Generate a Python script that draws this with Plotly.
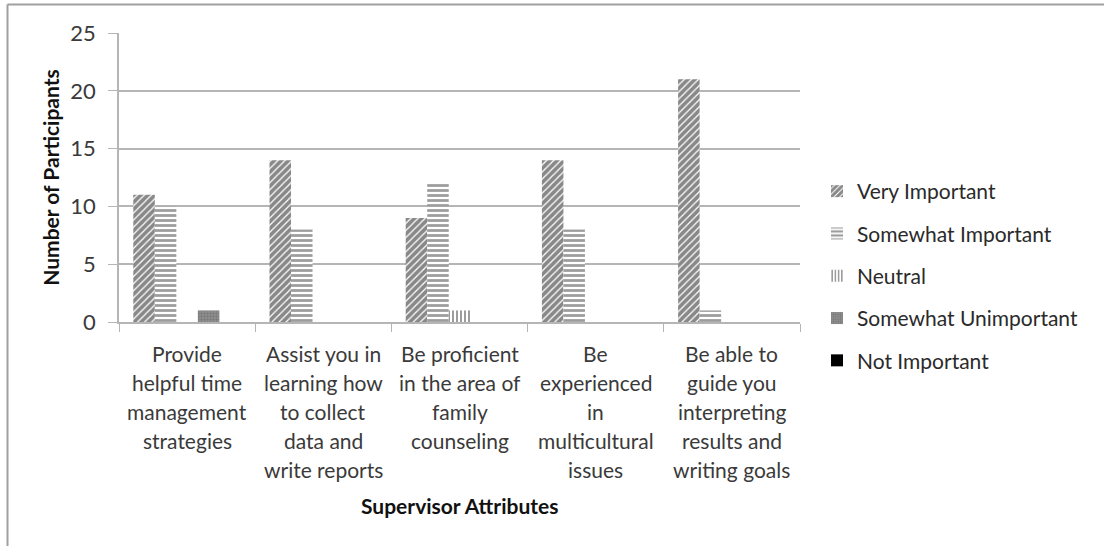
import plotly.graph_objects as go

# Survey data: supervisor attributes rated by participants
category_lines = [
    ["Provide", "helpful time", "management", "strategies"],
    ["Assist you in", "learning how", "to collect", "data and", "write reports"],
    ["Be proficient", "in the area of", "family", "counseling"],
    ["Be", "experienced", "in", "multicultural", "issues"],
    ["Be able to", "guide you", "interpreting", "results and", "writing goals"],
]
categories = [" ".join(lines) for lines in category_lines]

series_names = ["Very Important", "Somewhat Important", "Neutral",
                "Somewhat Unimportant", "Not Important"]
very_important = [11, 14, 9, 14, 21]
somewhat_important = [10, 8, 12, 8, 1]
neutral = [0, 0, 1, 0, 0]
somewhat_unimportant = [1, 0, 0, 0, 0]
not_important = [0, 0, 0, 0, 0]
y_ticks = [0, 5, 10, 15, 20, 25]

x_title = "Supervisor Attributes"
y_title = "Number of Participants"

W, H = 1104, 546
L, R, T, B = 119, 800, 33, 322  # plot area in pixels

def px_x(p):
    return (p - L) / (R - L)

def px_y(p):
    return (B - p) / (B - T)

FONT = "Lato, 'Open Sans', sans-serif"

patterns = [
    dict(shape="/", fgcolor="#111111", bgcolor="#ffffff", size=5, solidity=0.75),
    dict(shape="-", fgcolor="#3a3a3a", bgcolor="#ffffff", size=5, solidity=0.55),
    dict(shape="|", fgcolor="#3a3a3a", bgcolor="#ffffff", size=4, solidity=0.5),
    dict(shape=".", fgcolor="#606060", bgcolor="#949494", size=3, solidity=0.5),
    None,
]
colors = ["#ffffff", "#ffffff", "#ffffff", "#949494", "#000000"]
values = [very_important, somewhat_important, neutral, somewhat_unimportant, not_important]

fig = go.Figure()
for i, (name, vals) in enumerate(zip(series_names, values)):
    marker = dict(color=colors[i], line=dict(width=0))
    if patterns[i] is not None:
        marker["pattern"] = patterns[i]
    fig.add_trace(go.Bar(x=categories, y=vals, name=name, marker=marker,
                         legendgroup=name))

annotations = []
# multi-line category labels under each group
for cat, lines in zip(categories, category_lines):
    for j, line in enumerate(lines):
        annotations.append(dict(
            x=cat, xref="x", y=0, yref="paper", yanchor="middle",
            yshift=-31 - 29 * j, text=line, showarrow=False,
            font=dict(family=FONT, size=21, color="#3a3a3a")))
annotations.append(dict(
    x=0.5, xref="paper", y=0, yref="paper", yanchor="middle",
    yshift=-(505 - B), text="<b>%s</b>" % x_title, showarrow=False,
    font=dict(family=FONT, size=21, color="#111111")))

grey = "#b5b5b5"
shapes = [
    # outer chart frame (top and left edges)
    dict(type="line", xref="paper", yref="paper", x0=px_x(7.5), x1=px_x(W + 5),
         y0=px_y(4.5), y1=px_y(4.5), line=dict(color="#a0a0a0", width=2)),
    dict(type="line", xref="paper", yref="paper", x0=px_x(7.5), x1=px_x(7.5),
         y0=px_y(4.5), y1=px_y(H + 5), line=dict(color="#a0a0a0", width=2)),
]

fig.update_layout(
    width=W, height=H,
    margin=dict(l=L, r=W - R, t=T, b=H - B, pad=0),
    paper_bgcolor="white", plot_bgcolor="white",
    barmode="group", bargap=0.21, bargroupgap=0,
    font=dict(family=FONT, size=21, color="#3a3a3a"),
    showlegend=True,
    legend=dict(x=px_x(817), xanchor="left", y=px_y(276), yanchor="middle",
                font=dict(family=FONT, size=21, color="#2a2a2a"),
                tracegroupgap=12, bgcolor="rgba(0,0,0,0)", traceorder="grouped"),
    annotations=annotations,
    shapes=shapes,
)
fig.update_xaxes(showticklabels=False, ticks="outside", tickson="boundaries",
                 ticklen=8, tickcolor=grey, showline=True, linecolor=grey,
                 linewidth=1.5, showgrid=False)
fig.update_yaxes(range=[0, 25], tickvals=y_ticks, ticks="outside", ticklen=9,
                 tickcolor=grey, showline=True, linecolor=grey, linewidth=1.5,
                 showgrid=True, gridcolor=grey, gridwidth=1.5, zeroline=False,
                 ticklabelstandoff=8,
                 tickfont=dict(family=FONT, size=22, color="#3a3a3a"),
                 title=dict(text="<b>%s</b>" % y_title, standoff=5,
                            font=dict(family=FONT, size=21, color="#111111")))

fig.write_html("out.html")
